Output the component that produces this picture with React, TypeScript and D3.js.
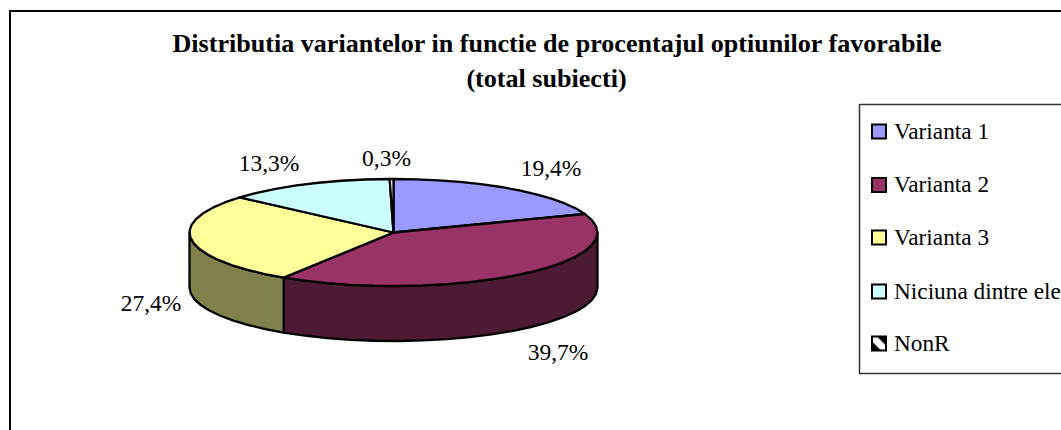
import React from "react";
import * as d3 from "d3";

const categories = ["Varianta 1", "Varianta 2", "Varianta 3", "Niciuna dintre ele", "NonR"];
const values = [19.4, 39.7, 27.4, 13.3, 0.3];
const labels = ["19,4%", "39,7%", "27,4%", "13,3%", "0,3%"];
const topColors = ["#9999ff", "#993366", "#ffff99", "#ccffff", "#ffffff"];
const sideColors = ["#4c4c80", "#4d1a33", "#80804d", "#668080", "#808080"];
const labelX = [551, 558, 151, 269, 386.5];
const labelY = [176, 360, 311, 171, 166];
const legendY = [131.5, 185, 237.5, 291.5, 343.5];
const titleLines = ["Distributia variantelor in functie de procentajul optiunilor favorabile", "(total subiecti)"];
const titleX = [557, 546.5];
const titleY = [52, 87];

const W = 1061, H = 430;
const cx = 393.5, cy = 232.5, rx = 204, ry = 53.5, depth = 55;
const FONT = "'Liberation Serif','Times New Roman',serif";
const STEP = Math.PI / 26;

const sx = d3.scaleLinear().domain([-1, 1]).range([cx - rx, cx + rx]);
const sy = d3.scaleLinear().domain([-1, 1]).range([cy - ry, cy + ry]);

function rim(a0: number, a1: number, dy = 0): [number, number][] {
  const n = Math.max(1, Math.ceil((a1 - a0) / STEP));
  return d3.range(n + 1).map((i) => {
    const t = a0 + ((a1 - a0) * i) / n;
    return [sx(Math.sin(t)), sy(-Math.cos(t)) + dy] as [number, number];
  });
}

const line = d3.line();

export default function App() {
  const arcs = d3.pie<number>().sort(null)(values);
  const walls = arcs
    .map((a, i) => {
      const s = Math.max(a.startAngle, Math.PI / 2);
      const e = Math.min(a.endAngle, (3 * Math.PI) / 2);
      if (e <= s) return null;
      const top = rim(s, e);
      const bottom = rim(s, e, depth).reverse();
      return { i, d: line([...top, ...bottom])! + "Z" };
    })
    .filter(Boolean) as { i: number; d: string }[];

  return (
    <svg
      width={W}
      height={H}
      viewBox={`0 0 ${W} ${H}`}
      style={{ position: "absolute", left: 0, top: 0, background: "#fff", fontFamily: FONT }}
    >
      <rect x={10} y={11} width={W + 20} height={H + 20} fill="#fff" stroke="#000" strokeWidth={2} />
      {titleLines.map((t, i) => (
        <text key={i} x={titleX[i]} y={titleY[i]} textAnchor="middle" fontSize={26.1} fontWeight="bold" fill="#000">
          {t}
        </text>
      ))}
      {walls.map((w) => (
        <path key={w.i} d={w.d} fill={sideColors[w.i]} stroke="#000" strokeWidth={2.3} strokeLinejoin="round" />
      ))}
      {arcs.map((a, i) => (
        <path
          key={i}
          d={line([[cx, cy], ...rim(a.startAngle, a.endAngle)])! + "Z"}
          fill={topColors[i]}
          stroke="#000"
          strokeWidth={2.3}
          strokeLinejoin="round"
        />
      ))}
      {labels.map((l, i) => (
        <text key={i} x={labelX[i]} y={labelY[i]} textAnchor="middle" fontSize={23.5} fill="#000">
          {l}
        </text>
      ))}
      <rect x={859.5} y={104.5} width={W} height={269} fill="#fff" stroke="#333" strokeWidth={1.5} />
      <defs>
        <pattern id="nonr" x={869} y={333.5} width={20} height={20} patternUnits="userSpaceOnUse" patternTransform="rotate(-45 879 343.5)">
          <rect width={20} height={20} fill="#000" />
          <rect x={6.5} width={7} height={20} fill="#fff" />
        </pattern>
      </defs>
      {categories.map((c, i) => (
        <g key={c}>
          <rect
            x={872}
            y={legendY[i] - 7}
            width={14}
            height={14}
            fill={i === 4 ? "url(#nonr)" : topColors[i]}
            stroke="#000"
            strokeWidth={2}
          />
          <text x={894} y={legendY[i] + 7} fontSize={23.3} fill="#000">
            {c}
          </text>
        </g>
      ))}
    </svg>
  );
}
